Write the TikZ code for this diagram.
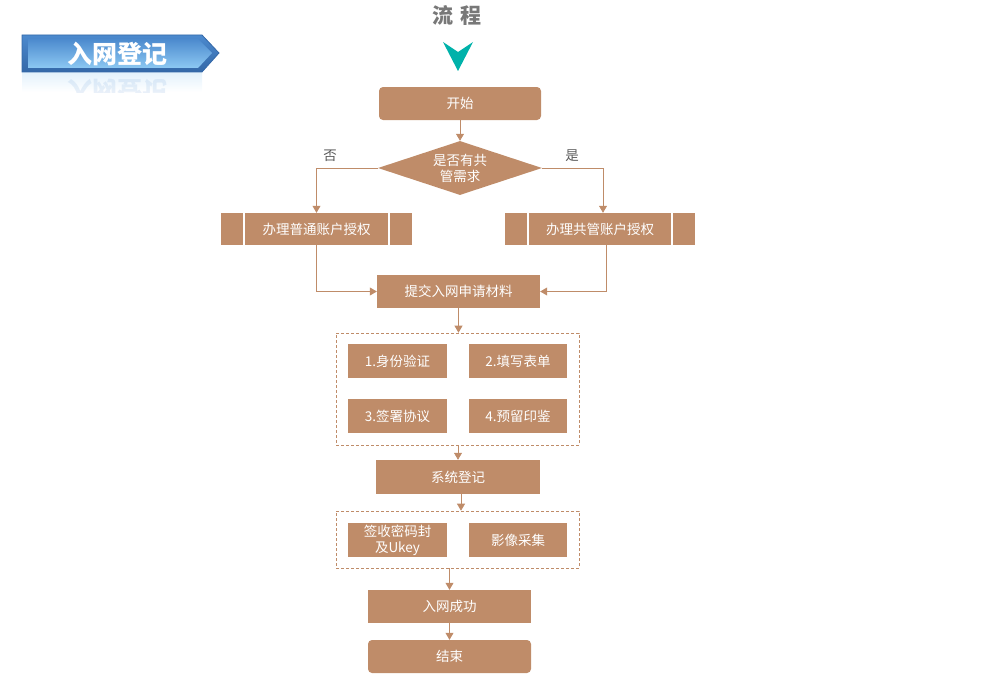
\documentclass[tikz,border=0pt]{standalone}
\usepackage{fontspec}
\setmainfont{Noto Sans CJK SC}
\usetikzlibrary{arrows.meta,shapes.geometric}
\definecolor{tan}{RGB}{191,140,105}
\definecolor{tealmark}{RGB}{0,178,170}
\definecolor{labelgray}{RGB}{89,89,89}
\definecolor{titlegray}{RGB}{120,120,120}
\definecolor{bandark}{RGB}{52,104,168}
\definecolor{bantop}{RGB}{76,138,206}
\definecolor{banlow}{RGB}{140,200,242}

\tikzset{
  box/.style={fill=tan, text=white, inner sep=0pt, align=center,
    font=\fontsize{13.5}{16}\selectfont},
  link/.style={draw=tan, line width=0.8pt, -{Triangle[width=8pt,length=7pt]}},
  groupbox/.style={draw=tan, line width=0.6pt, dash pattern=on 3pt off 2pt,
    inner sep=0pt},
  bar/.style={white, line width=1.5pt}
}

\begin{document}
\begin{tikzpicture}[x=1pt,y=-1pt]
    \useasboundingbox (0,0) rectangle (985,677);

    % banner
    \shade[top color=banlow!25, bottom color=white] (22,72) rectangle (202,92);
    \begin{scope}
      \clip (22,72) rectangle (219,92);
      \node[text=bantop, text opacity=0.12, yscale=-1, font=\fontsize{25}{25}\selectfont\bfseries] (mirror) at (117,91) {入网登记};
    \end{scope}
    \shade[top color=bantop, bottom color=bandark, draw=bandark, line width=0.8pt]
      (22,35) -- (202,35) -- (219,53) -- (202,72) -- (22,72) -- cycle;
    \shade[top color=bantop, bottom color=banlow]
      (28,39) -- (198,39) -- (212,53) -- (198,68) -- (28,68) -- cycle;
    \node[text=white, font=\fontsize{25}{25}\selectfont\bfseries] (banner) at (117,54) {入网登记};

    % title
    \node[text=titlegray, font=\fontsize{21}{21}\selectfont\bfseries] (title) at (457,15) {流\,\,程};
    \fill[tealmark] (443,42) -- (458,71) -- (473,42) -- (458,52) -- cycle;

    % flow
    \node[box, rounded corners=4pt, minimum width=162pt, minimum height=33pt] (start) at (460,103.5) {开始};
    \node[box, diamond, aspect=3, minimum width=164pt, minimum height=54pt] (ask) at (460,168) {是否有共\\管需求};
    \node[text=labelgray, font=\fontsize{13.5}{16}\selectfont] (no) at (330,156) {否};
    \node[text=labelgray, font=\fontsize{13.5}{16}\selectfont] (yes) at (572,156) {是};

    \node[box, minimum width=191pt, minimum height=32pt] (normal) at (316.5,229) {办理普通账户授权};
    \draw[bar] ([xshift=23pt]normal.north west) -- ([xshift=23pt]normal.south west);
    \draw[bar] ([xshift=-23pt]normal.north east) -- ([xshift=-23pt]normal.south east);
    \node[box, minimum width=190pt, minimum height=32pt] (joint) at (600,229) {办理共管账户授权};
    \draw[bar] ([xshift=23pt]joint.north west) -- ([xshift=23pt]joint.south west);
    \draw[bar] ([xshift=-23pt]joint.north east) -- ([xshift=-23pt]joint.south east);

    \node[box, minimum width=163pt, minimum height=33pt] (submit) at (458.5,291.5) {提交入网申请材料};

    \node[groupbox, minimum width=243pt, minimum height=112pt] (papers) at (457.5,389) {};
    \node[box, minimum width=99pt, minimum height=34pt] (idcheck) at (397.5,361) {1.身份验证};
    \node[box, minimum width=98pt, minimum height=34pt] (form) at (518,361) {2.填写表单};
    \node[box, minimum width=99pt, minimum height=34pt] (sign) at (397.5,416) {3.签署协议};
    \node[box, minimum width=98pt, minimum height=34pt] (seal) at (518,416) {4.预留印鉴};

    \node[box, minimum width=164pt, minimum height=34pt] (register) at (458,477) {系统登记};

    \node[groupbox, minimum width=243pt, minimum height=57pt] (handover) at (457.5,539.5) {};
    \node[box, minimum width=99pt, minimum height=34pt] (ukey) at (397.5,540) {签收密码封\\及Ukey};
    \node[box, minimum width=98pt, minimum height=34pt] (photo) at (518,540) {影像采集};

    \node[box, minimum width=163pt, minimum height=33pt] (success) at (449.5,606.5) {入网成功};
    \node[box, rounded corners=4pt, minimum width=163pt, minimum height=33pt] (finish) at (449.5,656.5) {结束};

    % connectors
    \draw[link] (start) -- (ask);
    \draw[link] (ask.west) -| (normal.north);
    \draw[link] (ask.east) -| ([xshift=3pt]joint.north);
    \draw[link] (normal.south) |- (submit.west);
    \draw[link] ([xshift=6pt]joint.south) |- (submit.east);
    \draw[link] (submit.south) -- (submit.south |- papers.north);
    \draw[link] (register.north |- papers.south) -- (register.north);
    \draw[link] ([xshift=3pt]register.south) -- ([xshift=3pt]register.south |- handover.north);
    \draw[link] (success.north |- handover.south) -- (success.north);
    \draw[link] (success) -- (finish);
  \end{tikzpicture}
\end{document}
